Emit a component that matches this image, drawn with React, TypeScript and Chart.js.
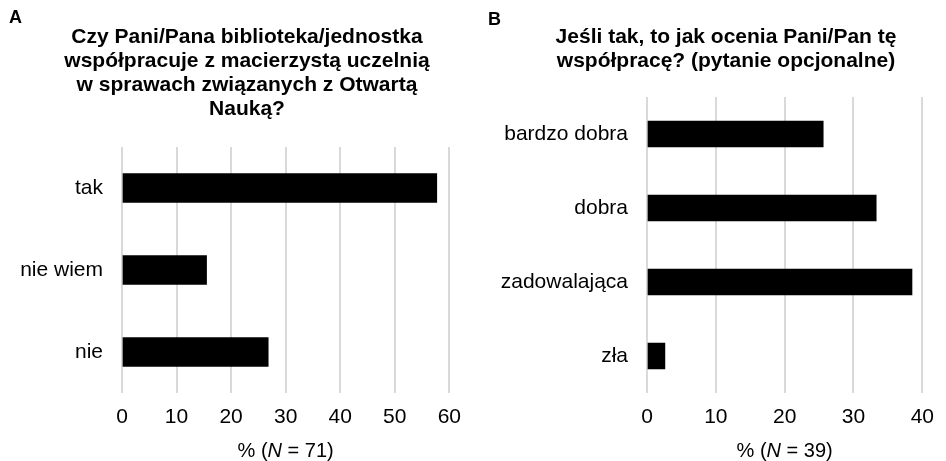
import React, { useEffect, useRef } from "react";
import { Chart, registerables } from "chart.js";

Chart.register(...registerables);

const categoriesA = ["tak", "nie wiem", "nie"];
const valuesA = [57.7, 15.5, 26.8];
const ticksA = [0, 10, 20, 30, 40, 50, 60];
const titleA = [
  "Czy Pani/Pana biblioteka/jednostka",
  "współpracuje z macierzystą uczelnią",
  "w sprawach związanych z Otwartą",
  "Nauką?",
];
const nA = 71;

const categoriesB = ["bardzo dobra", "dobra", "zadowalająca", "zła"];
const valuesB = [25.6, 33.3, 38.5, 2.6];
const ticksB = [0, 10, 20, 30, 40];
const titleB = ["Jeśli tak, to jak ocenia Pani/Pan tę", "współpracę? (pytanie opcjonalne)"];
const nB = 39;

const FONT = "'Liberation Sans', Arial, Helvetica, sans-serif";

type Cfg = {
  letter: string;
  letterX: number;
  letterY: number;
  categories: string[];
  values: number[];
  ticks: number[];
  title: string[];
  titleX: number;
  titleBaseline: number;
  n: number;
  padR: number;
  padTop: number;
  yWidth: number;
  barThickness: number;
};

function makeChart(canvas: HTMLCanvasElement, c: Cfg) {
  const overlay = {
    id: "overlay",
    afterDraw(chart: any) {
      const ctx = chart.ctx as CanvasRenderingContext2D;
      const area = chart.chartArea;
      ctx.save();
      ctx.fillStyle = "#000";
      ctx.textBaseline = "middle";
      ctx.textAlign = "left";
      ctx.font = `bold 18px ${FONT}`;
      ctx.fillText(c.letter, c.letterX, c.letterY);

      ctx.textAlign = "center";
      ctx.textBaseline = "alphabetic";
      ctx.font = `bold 21px ${FONT}`;
      c.title.forEach((line, i) => {
        ctx.fillText(line, c.titleX, c.titleBaseline + i * 24);
      });

      ctx.textAlign = "left";
      ctx.textBaseline = "middle";
      const parts = [
        { t: "% (", f: `20px ${FONT}` },
        { t: "N", f: `italic 20px ${FONT}` },
        { t: ` = ${c.n})`, f: `20px ${FONT}` },
      ];
      let total = 0;
      for (const p of parts) {
        ctx.font = p.f;
        total += ctx.measureText(p.t).width;
      }
      let x = (area.left + area.right) / 2 - total / 2;
      const y = area.bottom + 58;
      for (const p of parts) {
        ctx.font = p.f;
        ctx.fillText(p.t, x, y);
        x += ctx.measureText(p.t).width;
      }
      ctx.restore();
    },
  };

  return new Chart(canvas, {
    type: "bar",
    data: {
      labels: c.categories,
      datasets: [
        {
          data: c.values,
          backgroundColor: "#000",
          borderWidth: 0,
          barThickness: c.barThickness,
        },
      ],
    },
    options: {
      indexAxis: "y",
      responsive: false,
      animation: false,
      layout: { padding: { left: 0, right: c.padR, top: c.padTop, bottom: 0 } },
      plugins: {
        legend: { display: false },
        tooltip: { enabled: false },
        title: { display: false },
      },
      scales: {
        x: {
          min: 0,
          max: c.ticks[c.ticks.length - 1],
          afterBuildTicks: (scale: any) => {
            scale.ticks = c.ticks.map((v) => ({ value: v }));
          },
          afterFit: (scale: any) => {
            scale.height = 68;
          },
          grid: { color: "#d9d9d9", lineWidth: 2, drawTicks: false },
          border: { display: false },
          ticks: {
            color: "#000",
            padding: 12,
            font: { family: FONT, size: 21 },
          },
        },
        y: {
          afterFit: (scale: any) => {
            scale.width = c.yWidth;
          },
          grid: { display: false, drawTicks: false },
          border: { display: false },
          ticks: {
            color: "#000",
            padding: 19,
            font: { family: FONT, size: 21 },
          },
        },
      },
    },
    plugins: [overlay],
  } as any);
}

function Panel({ cfg, left }: { cfg: Cfg; left: number }) {
  const ref = useRef<HTMLCanvasElement | null>(null);
  useEffect(() => {
    if (!ref.current) return;
    const ch = makeChart(ref.current, cfg);
    return () => ch.destroy();
  }, []);
  return (
    <canvas
      ref={ref}
      width={473}
      height={461}
      style={{ position: "absolute", left, top: 0, width: 473, height: 461 }}
    />
  );
}

const cfgA: Cfg = {
  letter: "A",
  letterX: 9,
  letterY: 18.5,
  categories: categoriesA,
  values: valuesA,
  ticks: ticksA,
  title: titleA,
  titleX: 247,
  titleBaseline: 43,
  n: nA,
  padR: 22,
  padTop: 147,
  yWidth: 122,
  barThickness: 29,
};

const cfgB: Cfg = {
  letter: "B",
  letterX: 15,
  letterY: 20,
  categories: categoriesB,
  values: valuesB,
  ticks: ticksB,
  title: titleB,
  titleX: 253,
  titleBaseline: 42.5,
  n: nB,
  padR: 14,
  padTop: 97,
  yWidth: 174,
  barThickness: 26,
};

export default function App() {
  return (
    <div style={{ position: "absolute", left: 0, top: 0, width: 946, height: 461, background: "#fff" }}>
      <Panel cfg={cfgA} left={0} />
      <Panel cfg={cfgB} left={473} />
    </div>
  );
}
